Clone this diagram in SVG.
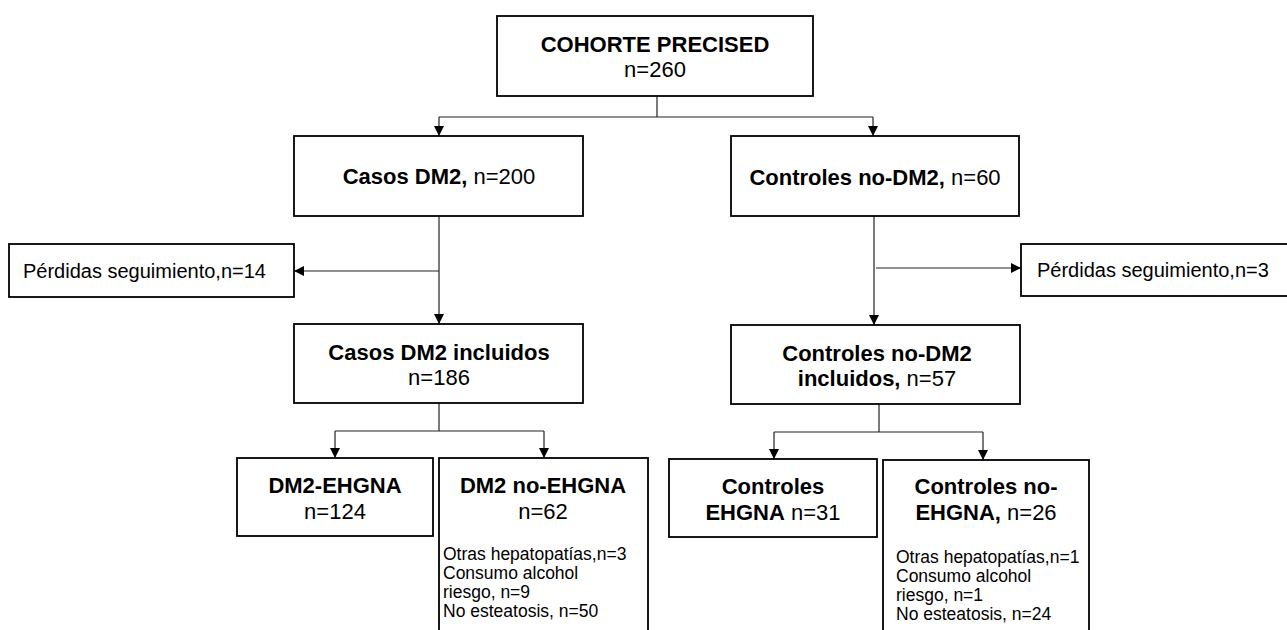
<svg xmlns="http://www.w3.org/2000/svg" width="1287" height="630" viewBox="0 0 1287 630">
<style>
.box{fill:#fff;stroke:#000;stroke-width:1.8}
.c{fill:none;stroke:#222;stroke-width:1.2}
text{font-family:"Liberation Sans",Arial,sans-serif;fill:#000}
.t{font-size:22px;text-anchor:middle}
.b{font-weight:bold}
.p{font-size:20px}
.s{font-size:17.5px}
</style>
<defs>
<marker id="ah" viewBox="0 0 10 10" refX="10" refY="5" markerWidth="10" markerHeight="10" markerUnits="userSpaceOnUse" orient="auto">
<path d="M0,0 L10,5 L0,10 Z" fill="#000"/>
</marker>
</defs>
<rect width="1287" height="630" fill="#fff"/>
<g id="connectors">
<path class="c" d="M657,96 V117"/>
<path class="c" d="M439,117 H873"/>
<path class="c" d="M439,117 V136" marker-end="url(#ah)"/>
<path class="c" d="M873,117 V136" marker-end="url(#ah)"/>
<path class="c" d="M439,216 V324" marker-end="url(#ah)"/>
<path class="c" d="M439,271 H294" marker-end="url(#ah)"/>
<path class="c" d="M874,216 V325" marker-end="url(#ah)"/>
<path class="c" d="M876,268 H1021" marker-end="url(#ah)"/>
<path class="c" d="M439,403 V431"/>
<path class="c" d="M335,431 H544"/>
<path class="c" d="M335,431 V458" marker-end="url(#ah)"/>
<path class="c" d="M544,431 V458" marker-end="url(#ah)"/>
<path class="c" d="M879,404 V432"/>
<path class="c" d="M774,432 H983"/>
<path class="c" d="M774,432 V459" marker-end="url(#ah)"/>
<path class="c" d="M983,432 V460" marker-end="url(#ah)"/>
</g>
<g id="cohorte">
<rect class="box" x="497" y="16" width="316" height="80"/>
<text class="t b" x="655" y="52">COHORTE PRECISED</text>
<text class="t" x="655" y="77">n=260</text>
</g>
<g id="casos">
<rect class="box" x="294" y="136" width="289" height="80"/>
<text class="t" x="439" y="184"><tspan class="b">Casos DM2,</tspan> n=200</text>
</g>
<g id="controles">
<rect class="box" x="731" y="136" width="288" height="80"/>
<text class="t" x="875" y="185"><tspan class="b">Controles no-DM2,</tspan> n=60</text>
</g>
<g id="perdidas-casos">
<rect class="box" x="9" y="244" width="285" height="53"/>
<text class="p" x="23" y="278">Pérdidas seguimiento,n=14</text>
</g>
<g id="perdidas-controles">
<rect class="box" x="1021" y="244" width="275" height="52"/>
<text class="p" x="1037" y="277">Pérdidas seguimiento,n=3</text>
</g>
<g id="casos-incluidos">
<rect class="box" x="294" y="324" width="289" height="79"/>
<text class="t b" x="439" y="360">Casos DM2 incluidos</text>
<text class="t" x="439" y="385">n=186</text>
</g>
<g id="controles-incluidos">
<rect class="box" x="731" y="325" width="289" height="79"/>
<text class="t b" x="877" y="361">Controles no-DM2</text>
<text class="t" x="877" y="386"><tspan class="b">incluidos,</tspan> n=57</text>
</g>
<g id="dm2-ehgna">
<rect class="box" x="237" y="458" width="196" height="78"/>
<text class="t b" x="335" y="493">DM2-EHGNA</text>
<text class="t" x="335" y="519">n=124</text>
</g>
<g id="dm2-no-ehgna">
<rect class="box" x="439" y="458" width="209" height="190"/>
<text class="t b" x="543" y="493">DM2 no-EHGNA</text>
<text class="t" x="543" y="519">n=62</text>
<text class="s" x="443" y="560">Otras hepatopatías,n=3</text>
<text class="s" x="443" y="579">Consumo alcohol</text>
<text class="s" x="443" y="598">riesgo, n=9</text>
<text class="s" x="443" y="617">No esteatosis, n=50</text>
</g>
<g id="controles-ehgna">
<rect class="box" x="669" y="459" width="208" height="78"/>
<text class="t b" x="773" y="494">Controles</text>
<text class="t" x="773" y="520"><tspan class="b">EHGNA</tspan> n=31</text>
</g>
<g id="controles-no-ehgna">
<rect class="box" x="883" y="460" width="206" height="190"/>
<text class="t b" x="986" y="494">Controles no-</text>
<text class="t" x="986" y="520"><tspan class="b">EHGNA,</tspan> n=26</text>
<text class="s" x="896" y="563">Otras hepatopatías,n=1</text>
<text class="s" x="896" y="582">Consumo alcohol</text>
<text class="s" x="896" y="601">riesgo, n=1</text>
<text class="s" x="896" y="620">No esteatosis, n=24</text>
</g>
</svg>
